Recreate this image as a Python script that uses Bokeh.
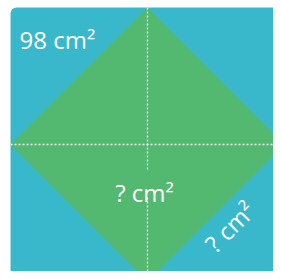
from math import pi
from bokeh.plotting import figure
from bokeh.models import Range1d
from bokeh.core.properties import value
from bokeh.embed import file_html
from bokeh.resources import INLINE

# Geometry of the figure in unit coordinates (square side = 1)
square_left = [0.0]
square_right = [1.0]
square_bottom = [0.0]
square_top = [1.0]
diamond_x = [0.5, 1.0, 0.5, 0.0]
diamond_y = [1.0, 0.5, 0.0, 0.5]
labels = ["98 cm²", "? cm²", "? cm²"]

TEAL = "#3ab8cb"
GREEN = "#53b971"

W, H = 273, 271
px = 274.0  # pixels per unit
x0 = -10.0 / px
y1 = 1.0 + 7.0 / px
p = figure(width=W, height=H, output_backend="svg", toolbar_location=None,
           x_range=Range1d(x0, x0 + W / px), y_range=Range1d(y1 - H / px, y1),
           min_border=0, background_fill_color="white", border_fill_color="white")
p.axis.visible = False
p.grid.visible = False
p.outline_line_color = None

p.quad(left=square_left, right=square_right, bottom=square_bottom, top=square_top,
       fill_color=TEAL, line_color=None, border_radius=6)
p.patch(diamond_x, diamond_y, fill_color=GREEN, line_color=None)

# dotted guide lines
dash = dict(line_color="white", line_width=1.3, line_dash="2 2", line_alpha=0.9)
p.segment(x0=[0.0], y0=[0.5], x1=[1.0], y1=[0.5], **dash)
p.segment(x0=[0.5, 0.5], y0=[1.0, 0.307], x1=[0.5, 0.5], y1=[0.409, 0.0], **dash)

font = value("Open Sans")
p.text(x=[0.033], y=[0.883], text=[labels[0]], text_color="white",
       text_font=font, text_font_size="24px", text_align="left",
       text_baseline="alphabetic")
p.text(x=[0.489], y=[0.325], text=[labels[1]], text_color="white",
       text_font=font, text_font_size="24px", text_align="center",
       text_baseline="alphabetic")
p.text(x=[0.80], y=[0.20], text=[labels[2]], text_color="white",
       text_font=font, text_font_size="24px", text_align="center",
       text_baseline="middle", angle=pi / 4)

open("out.html", "w").write(file_html(p, INLINE))
